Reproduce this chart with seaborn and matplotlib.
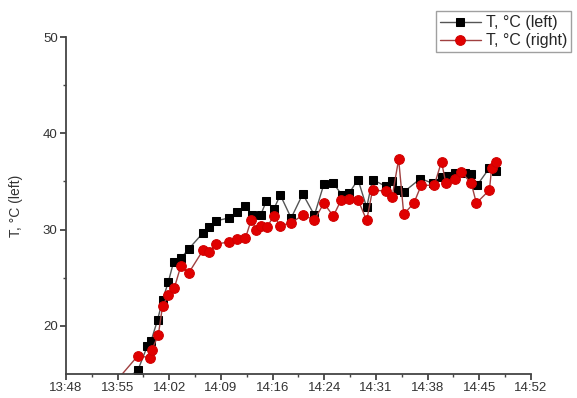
import numpy as np
import pandas as pd
import matplotlib
matplotlib.use("Agg")
import matplotlib.pyplot as plt
import seaborn as sns

# minutes since 13:48
t_left = [6.5, 9.9, 11.2, 11.7, 12.6, 13.3, 14.1, 14.8, 15.8, 16.9, 18.8, 19.7, 20.6,
          22.4, 23.6, 24.7, 25.6, 26.8, 27.6, 28.6, 29.5, 31.0, 32.6, 34.2, 35.5, 36.8,
          38.0, 39.0, 40.2, 41.4, 42.2, 44.0, 44.9, 45.7, 46.5, 48.8, 50.5, 51.7, 52.6,
          53.5, 54.9, 55.8, 56.6, 58.3, 59.2]
temp_left = [13.4, 15.4, 17.9, 18.4, 20.6, 22.7, 24.6, 26.6, 27.0, 28.0, 29.6, 30.3, 30.9,
             31.2, 31.8, 32.4, 31.5, 31.5, 33.0, 32.1, 33.6, 31.2, 33.7, 31.5, 34.7, 34.8,
             33.6, 33.8, 35.2, 32.3, 35.2, 34.5, 35.0, 34.1, 33.9, 35.3, 34.8, 35.5, 35.6,
             35.9, 35.9, 35.8, 34.6, 36.4, 36.1]

t_right = [6.5, 9.9, 11.5, 11.8, 12.7, 13.3, 14.1, 14.9, 15.8, 16.9, 18.9, 19.7, 20.6,
           22.4, 23.6, 24.7, 25.5, 26.2, 26.9, 27.7, 28.6, 29.5, 31.0, 32.6, 34.2, 35.5,
           36.8, 37.9, 39.0, 40.2, 41.4, 42.2, 44.0, 44.9, 45.8, 46.5, 47.9, 48.9, 50.7,
           51.7, 52.3, 53.5, 54.4, 55.8, 56.5, 58.3, 58.6, 59.2]
temp_right = [13.9, 16.9, 16.7, 17.5, 19.0, 22.1, 23.2, 23.9, 26.2, 25.5, 27.9, 27.65, 28.5,
              28.7, 29.0, 29.1, 31.0, 30.0, 30.4, 30.3, 31.4, 30.4, 30.7, 31.5, 31.0, 32.75,
              31.4, 33.1, 33.2, 33.1, 30.95, 34.1, 34.0, 33.4, 37.3, 31.6, 32.75, 34.6, 34.6,
              37.05, 34.8, 35.3, 36.0, 34.8, 32.75, 34.1, 36.4, 37.05]

x_ticklabels = ["13:48", "13:55", "14:02", "14:09", "14:16", "14:24", "14:31", "14:38", "14:45", "14:52"]
y_ticks = [20, 30, 40, 50]

sns.set_style("ticks")
plt.rcParams['font.family'] = ['Liberation Sans', 'DejaVu Sans']

df_left = pd.DataFrame({"t": t_left, "T": temp_left})
df_right = pd.DataFrame({"t": t_right, "T": temp_right})

fig = plt.figure(figsize=(5.77, 3.98), dpi=100)
ax = fig.add_axes([0.1144, 0.0603, 0.8056, 0.8467])

sns.lineplot(data=df_left, x="t", y="T", ax=ax, sort=False, estimator=None,
             color="#555555", lw=1.0, marker="s", markersize=6,
             markerfacecolor="black", markeredgecolor="black", label="T, °C (left)")
sns.lineplot(data=df_right, x="t", y="T", ax=ax, sort=False, estimator=None,
             color="#a04040", lw=1.0, marker="o", markersize=7,
             markerfacecolor="#e00000", markeredgecolor="#d00000", label="T, °C (right)")

ax.set_xlim(0, 64)
ax.set_ylim(15, 50)
xt = np.linspace(0, 64, 10)
ax.set_xticks(xt)
ax.set_xticklabels(x_ticklabels)
ax.set_xticks((xt[:-1] + xt[1:]) / 2, minor=True)
ax.set_yticks(y_ticks)
ax.set_yticks([25, 35, 45], minor=True)

for side in ["top", "right"]:
    ax.spines[side].set_visible(False)
for side in ["left", "bottom"]:
    ax.spines[side].set_color("#444444")
    ax.spines[side].set_linewidth(1.3)
ax.tick_params(which="major", direction="out", length=4, width=1.3, color="#444444",
               labelsize=9.5, labelcolor="#333333", pad=2)
ax.tick_params(which="minor", direction="out", length=2.5, width=1.0, color="#444444")

ax.set_xlabel("")
ax.set_ylabel("T, °C (left)", fontsize=10, color="#333333", labelpad=14)

ax.legend(loc="upper right", bbox_to_anchor=(0.99, 0.972), bbox_transform=fig.transFigure,
          fontsize=11.5, frameon=True, fancybox=False, edgecolor="#888888",
          borderpad=0.25, handlelength=2.6, handletextpad=0.3, labelspacing=0.2,
          borderaxespad=0)

fig.savefig("out.png", dpi=100)
